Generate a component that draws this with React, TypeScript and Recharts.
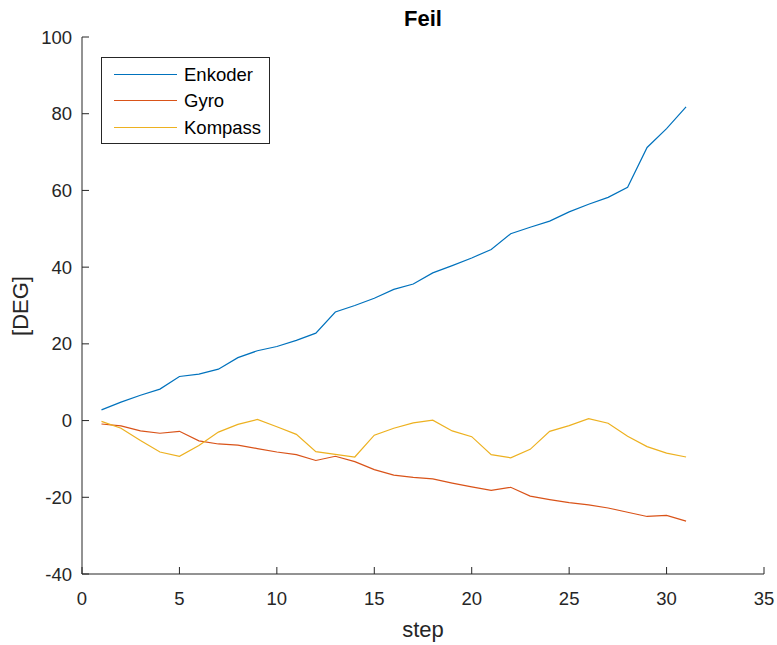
import React from 'react';
import { LineChart, Line, XAxis, YAxis } from 'recharts';

const steps = [1,2,3,4,5,6,7,8,9,10,11,12,13,14,15,16,17,18,19,20,21,22,23,24,25,26,27,28,29,30,31];
const enkoder = [2.8,4.8,6.6,8.2,11.5,12.1,13.4,16.4,18.2,19.3,20.9,22.8,28.3,30.0,31.9,34.2,35.6,38.5,40.4,42.4,44.6,48.7,50.4,52.0,54.4,56.4,58.2,60.8,71.2,76.1,81.8];
const gyro = [-0.9,-1.4,-2.7,-3.3,-2.8,-5.3,-6.1,-6.4,-7.3,-8.2,-8.9,-10.4,-9.3,-10.7,-12.8,-14.2,-14.8,-15.2,-16.3,-17.3,-18.2,-17.4,-19.7,-20.6,-21.4,-22.0,-22.8,-23.9,-25.0,-24.7,-26.2];
const kompass = [-0.2,-2.0,-5.2,-8.2,-9.3,-6.5,-3.0,-1.0,0.3,-1.6,-3.6,-8.1,-8.8,-9.5,-3.8,-2.0,-0.6,0.1,-2.7,-4.2,-8.9,-9.7,-7.5,-2.8,-1.3,0.5,-0.7,-4.1,-6.8,-8.5,-9.5];
const xTicks = [0,5,10,15,20,25,30,35];
const yTicks = [-40,-20,0,20,40,60,80,100];
const seriesNames = ['Enkoder', 'Gyro', 'Kompass'];
const seriesKeys = ['enkoder', 'gyro', 'kompass'];
const seriesColors = ['#0072BD', '#D95319', '#EDB120'];
const title = 'Feil';
const xLabel = 'step';
const yLabel = '[DEG]';

const data = steps.map((s, i) => ({ step: s, enkoder: enkoder[i], gyro: gyro[i], kompass: kompass[i] }));

const FONT = '"Liberation Sans", Arial, Helvetica, sans-serif';
const AX = '#262626';
const rowTops = [5, 31, 58];

export default function App() {
  const tickStyle = { fontSize: 18.5, fill: AX, fontFamily: FONT };
  return (
    <div style={{ position: 'absolute', left: 0, top: 0, width: 777, height: 645, background: '#fff', fontFamily: FONT }}>
      <LineChart width={777} height={645} data={data} margin={{ top: 37, right: 13, bottom: 0, left: 0 }}>
        <XAxis xAxisId="bottom" dataKey="step" type="number" domain={[0, 35]} ticks={xTicks} height={71}
          tickSize={-7} tickMargin={25} tick={tickStyle} stroke={AX} tickLine={{ stroke: AX }} axisLine={{ stroke: AX }} interval={0} />
        <XAxis xAxisId="top" orientation="top" type="number" domain={[0, 35]} ticks={xTicks} height={0}
          tickSize={-7} tick={false} stroke={AX} tickLine={{ stroke: AX }} axisLine={{ stroke: AX }} interval={0} />
        <YAxis yAxisId="left" type="number" domain={[-40, 100]} ticks={yTicks} width={82}
          tickSize={-7} tickMargin={17} tick={tickStyle} stroke={AX} tickLine={{ stroke: AX }} axisLine={{ stroke: AX }} interval={0} />
        <YAxis yAxisId="right" orientation="right" type="number" domain={[-40, 100]} ticks={yTicks} width={0}
          tickSize={-7} tick={false} stroke={AX} tickLine={{ stroke: AX }} axisLine={{ stroke: AX }} interval={0} />
        {seriesKeys.map((k, i) => (
          <Line key={k} xAxisId="bottom" yAxisId="left" type="linear" dataKey={k} name={seriesNames[i]}
            stroke={seriesColors[i]} strokeWidth={1.2} dot={false} activeDot={false} isAnimationActive={false} />
        ))}
      </LineChart>
      <svg width={777} height={645} style={{ position: 'absolute', left: 0, top: 0, pointerEvents: 'none' }}>
        <text x={423} y={26} textAnchor="middle" fontFamily={FONT} fontSize={22} fontWeight="bold" fill="#000">{title}</text>
        <text x={423} y={637} textAnchor="middle" fontFamily={FONT} fontSize={22} fill={AX}>{xLabel}</text>
        <text x={28} y={306} textAnchor="middle" fontFamily={FONT} fontSize={22} fill={AX} transform="rotate(-90, 28, 306)">{yLabel}</text>
      </svg>
      <div style={{ position: 'absolute', left: 101, top: 57, width: 167, height: 85, border: `1px solid ${AX}`, background: '#fff' }}>
        {seriesNames.map((n, i) => (
          <div key={n} style={{ position: 'absolute', left: 0, top: rowTops[i], height: 24, width: 167 }}>
            <div style={{ position: 'absolute', left: 12, top: 11, width: 63, height: 1, background: seriesColors[i] }} />
            <div style={{ position: 'absolute', left: 82, top: 0, lineHeight: '24px', fontSize: 18.5, color: '#000', whiteSpace: 'nowrap' }}>{n}</div>
          </div>
        ))}
      </div>
    </div>
  );
}
